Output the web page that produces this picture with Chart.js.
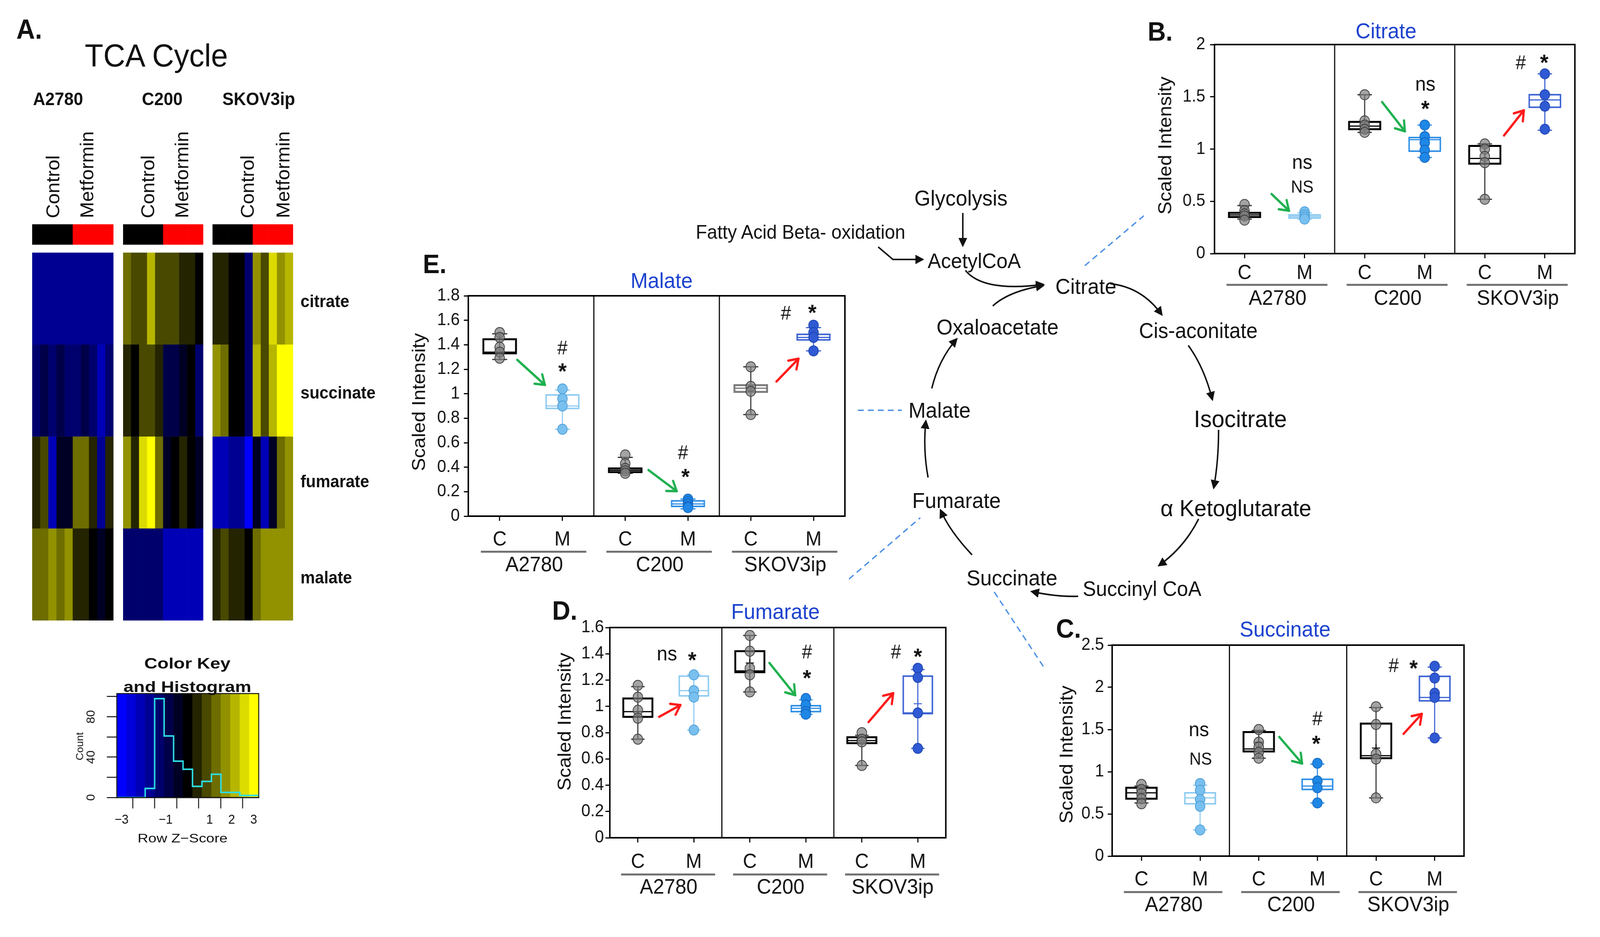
<!doctype html>
<html lang="en">
<head>
<meta charset="UTF-8" />
<title>TCA cycle metabolites after metformin</title>
<style>
  html, body { margin: 0; padding: 0; background: #fff; overflow: hidden; }
  #fig { position: relative; width: 4329px; height: 2398px; overflow: hidden;
         font-family: "Liberation Sans", Arial, sans-serif; color: #111; }
  #fig canvas { position: absolute; }
  .t { position: absolute; white-space: nowrap; line-height: 1; }
</style>
</head>
<body>
<div id="fig">
  <svg id="diagram" width="4329" height="2398" style="position:absolute;left:0;top:0">
    <defs>
      <marker id="head" viewBox="0 0 10 10" refX="8" refY="5" markerWidth="6" markerHeight="6" orient="auto">
        <path d="M0,0 L10,5 L0,10 z" fill="#111" />
      </marker>
    </defs>
  </svg>
</div>

<script src="https://cdn.jsdelivr.net/npm/chart.js"></script>
<script>
// ---------- data ----------
const cellLines = ["A2780", "C200", "SKOV3ip"];
const groupTicks = ["C", "M", "C", "M", "C", "M"];
const xPos = [0.5, 1.5, 2.5, 3.5, 4.5, 5.5];

// box stats are [lower whisker, Q1, median, Q3, upper whisker]
const citrateYTicks = [0, 0.5, 1, 1.5, 2];
const citratePoints = [
  [0.47, 0.41, 0.38, 0.36, 0.32], [0.40, 0.37, 0.35, 0.33],
  [1.52, 1.27, 1.23, 1.19, 1.16], [1.23, 1.12, 1.06, 0.99, 0.92],
  [1.05, 1.00, 0.93, 0.87, 0.52], [1.72, 1.52, 1.41, 1.19]
];
const citrateBoxes = [
  [0.33, 0.35, 0.37, 0.39, 0.46], [0.33, 0.34, 0.355, 0.37, 0.39],
  [1.16, 1.19, 1.22, 1.26, 1.52], [0.92, 0.98, 1.09, 1.11, 1.23],
  [0.52, 0.86, 0.91, 1.03, 1.05], [1.18, 1.40, 1.47, 1.52, 1.72]
];
const citrateMeans = [null, null, null, null, null, null];

const malateYTicks = [0, 0.2, 0.4, 0.6, 0.8, 1, 1.2, 1.4, 1.6, 1.8];
const malatePoints = [
  [1.50, 1.46, 1.38, 1.34, 1.29], [1.04, 0.96, 0.90, 0.71],
  [0.50, 0.43, 0.39, 0.37, 0.35], [0.14, 0.12, 0.10, 0.08, 0.07],
  [1.22, 1.06, 1.02, 0.83], [1.56, 1.50, 1.46, 1.35]
];
const malateBoxes = [
  [1.28, 1.33, 1.34, 1.445, 1.49], [0.71, 0.88, 0.90, 0.99, 1.03],
  [0.35, 0.36, 0.375, 0.39, 0.48], [0.06, 0.08, 0.10, 0.125, 0.14],
  [0.83, 1.015, 1.045, 1.07, 1.22], [1.35, 1.44, 1.46, 1.485, 1.54]
];
const malateMeans = [null, 0.93, null, null, null, null];

const fumarateYTicks = [0, 0.2, 0.4, 0.6, 0.8, 1, 1.2, 1.4, 1.6];
const fumaratePoints = [
  [1.16, 1.07, 0.97, 0.91, 0.75], [1.24, 1.12, 1.07, 0.82],
  [1.54, 1.42, 1.29, 1.24, 1.11], [1.06, 1.01, 0.96, 0.94],
  [0.80, 0.75, 0.73, 0.55], [1.29, 1.22, 0.95, 0.68]
];
const fumarateBoxes = [
  [0.75, 0.92, 0.96, 1.06, 1.15], [0.82, 1.08, 1.12, 1.23, 1.24],
  [1.11, 1.26, 1.27, 1.42, 1.54], [0.94, 0.96, 0.985, 1.005, 1.05],
  [0.55, 0.72, 0.74, 0.765, 0.78], [0.68, 0.945, 0.95, 1.23, 1.28]
];
const fumarateMeans = [null, null, 1.33, null, null, 1.02];

const succinateYTicks = [0, 0.5, 1, 1.5, 2, 2.5];
const succinatePoints = [
  [0.85, 0.79, 0.74, 0.68, 0.62], [0.86, 0.78, 0.67, 0.59, 0.31],
  [1.50, 1.35, 1.29, 1.23, 1.16], [1.10, 0.89, 0.81, 0.63],
  [1.77, 1.56, 1.21, 1.15, 0.69], [2.25, 2.11, 1.93, 1.88, 1.40]
];
const succinateBoxes = [
  [0.63, 0.68, 0.75, 0.81, 0.83], [0.31, 0.62, 0.69, 0.75, 0.84],
  [1.16, 1.24, 1.27, 1.47, 1.49], [0.63, 0.79, 0.83, 0.91, 1.09],
  [0.69, 1.16, 1.19, 1.57, 1.76], [1.40, 1.84, 1.88, 2.13, 2.24]
];
const succinateMeans = [null, null, 1.35, null, 1.28, null];

// heatmap: row z-scores, 10 samples per cell line (5 control, 5 metformin)
const heatmapRows = ["citrate", "succinate", "fumarate", "malate"];
const heatmapTreatment = ["Control", "Control", "Control", "Control", "Control",
                          "Metformin", "Metformin", "Metformin", "Metformin", "Metformin"];
const citrateZ = [
  -1.70, -1.78, -1.66, -1.75, -1.69, -1.71, -1.67, -1.80, -1.68, -1.73,
   1.30, 0.87, 0.85, 2.16, 0.90, 0.88, 0.86, 0.44, 0.46, 0.05,
   0.44, 0.40, 0.02, -0.05, -1.29, 1.73, 0.87, 2.59, 1.70, 2.16
];
const succinateZ = [
  -1.29, -0.86, -1.25, -0.90, -1.30, -1.27, -0.88, -1.32, -2.15, -1.28,
   0.44, 0.00, 0.87, 0.90, 0.42, -0.86, -0.84, -0.43, -0.10, -1.29,
   1.73, 1.30, 0.03, -0.02, -1.29, 2.16, 0.87, 2.14, 3.05, 2.98
];
const fumarateZ = [
   0.44, 0.87, -2.15, -0.43, -0.40, 1.30, 1.28, 0.46, -1.72, 0.42,
   1.73, 0.44, 2.59, 3.02, 1.30, -0.43, 0.00, 0.44, 0.04, -0.45,
  -2.15, -2.12, -1.72, -1.68, -3.00, -0.43, -2.18, -0.40, 1.30, 1.73
];
const malateZ = [
   1.30, 1.27, 1.73, 1.32, 1.71, 0.44, 0.47, 0.00, -0.30, 0.03,
  -1.29, -1.31, -1.27, -1.30, -1.28, -2.15, -2.14, -2.16, -2.13, -2.15,
   0.44, 0.87, 0.45, 0.41, 0.00, 1.30, 1.73, 1.72, 1.75, 1.70
];

// colour key and histogram
const keyBreaks = [-3.22, -2.79, -2.36, -1.93, -1.50, -1.07, -0.64, -0.21,
                    0.22, 0.65, 1.08, 1.51, 1.94, 2.37, 2.80, 3.23];
const histCounts = [0, 0, 0, 0, 9, 98, 61, 36, 28, 11, 16, 23, 5, 5, 2];
const keyXTicks = [-3, -2, -1, 0, 1, 2, 3];
const keyXLabels = ["\u22123", "", "\u22121", "", "1", "2", "3"];
const keyYTicks = [0, 20, 40, 60, 80, 100];
const keyYLabels = ["0", "", "40", "", "80", ""];
const keyCountMax = 103;

// ---------- helpers ----------
const fig = document.getElementById("fig");
const FONT = '"Liberation Sans", Arial, sans-serif';
Chart.defaults.font.family = FONT;
Chart.defaults.color = "#000";

function zColor(z) {
  // 15 colour bins, blue - black - yellow
  let b = Math.floor((z - keyBreaks[0]) / (keyBreaks[1] - keyBreaks[0]));
  b = Math.max(0, Math.min(14, b));
  const k = b - 7;
  const v = Math.round(255 * Math.abs(k) / 7);
  return k < 0 ? `rgb(0,0,${v})` : `rgb(${v},${v},0)`;
}

function label(txt, x, y, size, o = {}) {
  const d = document.createElement("div");
  d.className = "t";
  d.textContent = txt;
  d.style.left = x + "px";
  d.style.top = y + "px";
  d.style.fontSize = size + "px";
  if (o.bold) d.style.fontWeight = "bold";
  if (o.color) d.style.color = o.color;
  d.style.transform = `translate(${o.left ? "0" : "-50%"},-50%)` +
    (o.rot ? ` rotate(${o.rot}deg)` : "") + (o.sx ? ` scaleX(${o.sx})` : "");
  fig.appendChild(d);
}

function makeCanvas(left, top, w, h) {
  const c = document.createElement("canvas");
  c.width = w; c.height = h;
  c.style.left = left + "px"; c.style.top = top + "px";
  c.style.width = w + "px"; c.style.height = h + "px";
  fig.appendChild(c);
  return c;
}

function line(ctx, x1, y1, x2, y2) {
  ctx.beginPath(); ctx.moveTo(x1, y1); ctx.lineTo(x2, y2); ctx.stroke();
}

// ---------- box plots ----------
const mBox = ["#8fcbf1", "#2f8fe6", "#3c63d4"];
const mPoint = ["#79c0ef", "#1f87e5", "#2f5ad3"];
const mEdge = ["#4d9fd8", "#1466c0", "#1f44b0"];
const arrowColor = { g: "#1fb04f", r: "#ff1a1a" };

const boxPlugin = {
  id: "boxes",
  beforeDatasetsDraw(chart) {
    const o = chart.options.plugins.boxes;
    const { ctx, scales: { x, y } } = chart;
    ctx.save();
    o.boxes.forEach((b, i) => {
      const [wlo, q1, med, q3, whi] = b;
      const cx = x.getPixelForValue(xPos[i]);
      const hw = x.getPixelForValue(xPos[i] + 0.26) - cx;
      const cw = x.getPixelForValue(xPos[i] + 0.12) - cx;
      const isM = i % 2 === 1;
      const col = isM ? mBox[i >> 1] : o.cBox[i >> 1];
      ctx.strokeStyle = isM ? col : "#333";
      ctx.lineWidth = 3;
      line(ctx, cx, y.getPixelForValue(wlo), cx, y.getPixelForValue(whi));
      [wlo, whi].forEach(v => line(ctx, cx - cw, y.getPixelForValue(v), cx + cw, y.getPixelForValue(v)));
      ctx.strokeStyle = col;
      ctx.lineWidth = isM ? 4 : 5;
      const top = y.getPixelForValue(q3), bot = y.getPixelForValue(q1);
      ctx.strokeRect(cx - hw, top, 2 * hw, bot - top);
      ctx.lineWidth = 3;
      line(ctx, cx - hw, y.getPixelForValue(med), cx + hw, y.getPixelForValue(med));
      const m = o.means[i];
      if (m != null) {
        const my = y.getPixelForValue(m);
        ctx.lineWidth = 2.5;
        line(ctx, cx - 11, my, cx + 11, my);
        line(ctx, cx, my - 11, cx, my + 11);
      }
    });
    ctx.restore();
  },
  afterDraw(chart) {
    const o = chart.options.plugins.boxes;
    const L = o.layout;
    const { ctx, chartArea: a, scales: { x, y } } = chart;
    ctx.save();
    ctx.strokeStyle = "#000";
    ctx.lineWidth = 4;
    ctx.strokeRect(a.left, a.top, a.right - a.left, a.bottom - a.top);
    ctx.lineWidth = 3;
    [2, 4].forEach(v => { const px = x.getPixelForValue(v); line(ctx, px, a.top, px, a.bottom); });

    // cell line group labels
    cellLines.forEach((name, g) => {
      ctx.strokeStyle = "#6e6e6e";
      ctx.lineWidth = 5;
      line(ctx, x.getPixelForValue(2 * g + 0.2), a.bottom + L.underlineDy,
                x.getPixelForValue(2 * g + 1.88), a.bottom + L.underlineDy);
      ctx.fillStyle = "#111";
      ctx.font = `54px ${FONT}`;
      ctx.textAlign = "center";
      ctx.textBaseline = "middle";
      ctx.fillText(name, x.getPixelForValue(2 * g + 1.05), a.bottom + L.groupDy);
    });

    // y title
    ctx.save();
    ctx.translate(a.left + L.yTitleDx, (a.top + a.bottom) / 2 + L.yTitleDy);
    ctx.rotate(-Math.PI / 2);
    ctx.font = `50px ${FONT}`;
    ctx.fillStyle = "#111";
    ctx.textAlign = "center";
    ctx.textBaseline = "middle";
    ctx.fillText("Scaled Intensity", 0, 0);
    ctx.restore();

    // significance marks
    o.notes.forEach(([t, vx, vy]) => {
      const size = t === "*" ? 58 : t === "NS" ? 44 : t === "#" ? 50 : 52;
      ctx.font = `${t === "*" ? "bold " : ""}${size}px ${FONT}`;
      ctx.fillStyle = "#111";
      ctx.textAlign = "center";
      ctx.textBaseline = "alphabetic";
      const m = ctx.measureText(t);
      const cy = y.getPixelForValue(vy) + (m.actualBoundingBoxAscent - m.actualBoundingBoxDescent) / 2;
      ctx.fillText(t, x.getPixelForValue(vx), cy);
    });

    // change arrows
    o.arrows.forEach(([x1, y1, x2, y2, c]) => {
      const p1 = [x.getPixelForValue(x1), y.getPixelForValue(y1)];
      const p2 = [x.getPixelForValue(x2), y.getPixelForValue(y2)];
      ctx.strokeStyle = arrowColor[c];
      ctx.lineWidth = 6;
      ctx.lineCap = "round";
      line(ctx, p1[0], p1[1], p2[0], p2[1]);
      const ang = Math.atan2(p2[1] - p1[1], p2[0] - p1[0]);
      [-0.6, 0.6].forEach(s => line(ctx, p2[0], p2[1],
        p2[0] - 28 * Math.cos(ang + s), p2[1] - 28 * Math.sin(ang + s)));
    });
    ctx.restore();
  }
};

function boxChart(p) {
  const LEFT = 200, TOP = 40, RIGHT = 40, BOTTOM = 170;
  const c = makeCanvas(p.plot.left - LEFT, p.plot.top - TOP,
                       p.plot.w + LEFT + RIGHT, p.plot.h + TOP + BOTTOM);
  const yMax = p.yTicks[p.yTicks.length - 1];
  return new Chart(c, {
    type: "scatter",
    data: {
      datasets: p.points.map((pts, i) => ({
        data: pts.map(v => ({ x: xPos[i], y: v })),
        backgroundColor: i % 2 ? mPoint[i >> 1] : "rgba(125,125,125,0.7)",
        borderColor: i % 2 ? mEdge[i >> 1] : "#3a3a3a",
        borderWidth: 2,
        pointRadius: 13,
        pointHoverRadius: 13
      }))
    },
    options: {
      responsive: false,
      animation: false,
      devicePixelRatio: 1,
      events: [],
      layout: { autoPadding: false, padding: { top: TOP, right: RIGHT, left: 0, bottom: 0 } },
      plugins: {
        legend: { display: false },
        tooltip: { enabled: false },
        boxes: { boxes: p.boxes, means: p.means, notes: p.notes, arrows: p.arrows,
                 layout: p.layout, cBox: p.cBox }
      },
      scales: {
        x: {
          type: "linear", min: 0, max: 6, offset: false,
          afterBuildTicks: ax => { ax.ticks = xPos.map(v => ({ value: v })); },
          afterFit: ax => { ax.height = BOTTOM; },
          ticks: { callback: (v, i) => groupTicks[i], autoSkip: false, maxRotation: 0,
                   font: { size: 52 }, color: "#111", padding: p.layout.tickPadX },
          grid: { drawOnChartArea: false, drawTicks: true, tickLength: 12, color: "#000", lineWidth: 3 },
          border: { display: true, color: "#000", width: 4 }
        },
        y: {
          min: 0, max: yMax,
          afterBuildTicks: ax => { ax.ticks = p.yTicks.map(v => ({ value: v })); },
          afterFit: ax => { ax.width = LEFT; },
          ticks: { callback: v => String(+v.toFixed(2)), font: { size: 44 }, color: "#111",
                   padding: p.layout.tickPadY },
          grid: { drawOnChartArea: false, drawTicks: true, tickLength: 12, color: "#000", lineWidth: 3 },
          border: { display: true, color: "#000", width: 4 }
        }
      }
    },
    plugins: [boxPlugin]
  });
}

boxChart({
  plot: { left: 3286, top: 114, w: 975, h: 535 },
  yTicks: citrateYTicks, points: citratePoints, boxes: citrateBoxes, means: citrateMeans,
  cBox: ["#000", "#000", "#000"],
  layout: { tickPadX: 7, tickPadY: 13, yTitleDx: -131, yTitleDy: -9, underlineDy: 80, groupDy: 116 },
  notes: [["ns", 1.46, 0.86], ["NS", 1.46, 0.64], ["ns", 3.51, 1.61], ["*", 3.51, 1.42],
          ["#", 5.10, 1.83], ["*", 5.49, 1.86]],
  arrows: [[0.95, 0.57, 1.24, 0.41, "g"], [2.79, 1.45, 3.17, 1.17, "g"], [4.82, 1.13, 5.15, 1.37, "r"]]
});

boxChart({
  plot: { left: 1267, top: 757, w: 1019, h: 564 },
  yTicks: malateYTicks, points: malatePoints, boxes: malateBoxes, means: malateMeans,
  cBox: ["#000", "#000", "#7a7a7a"],
  layout: { tickPadX: 17, tickPadY: 11, yTitleDx: -131, yTitleDy: -10, underlineDy: 91, groupDy: 126 },
  notes: [["#", 1.50, 1.376], ["*", 1.50, 1.213], ["#", 3.42, 0.523], ["*", 3.46, 0.351],
          ["#", 5.06, 1.66], ["*", 5.48, 1.69]],
  arrows: [[0.78, 1.277, 1.22, 1.072, "g"], [2.87, 0.377, 3.32, 0.204, "g"], [4.91, 1.10, 5.26, 1.286, "r"]]
});

boxChart({
  plot: { left: 1650, top: 1606, w: 909, h: 538 },
  yTicks: fumarateYTicks, points: fumaratePoints, boxes: fumarateBoxes, means: fumarateMeans,
  cBox: ["#000", "#000", "#000"],
  layout: { tickPadX: 19, tickPadY: 4, yTitleDx: -120, yTitleDy: -28, underlineDy: 94, groupDy: 128 },
  notes: [["ns", 1.02, 1.39], ["*", 1.47, 1.38], ["#", 3.52, 1.416], ["*", 3.52, 1.243],
          ["#", 5.11, 1.416], ["*", 5.50, 1.407]],
  arrows: [[0.88, 0.92, 1.26, 1.01, "r"], [2.85, 1.33, 3.31, 1.085, "g"], [4.62, 0.88, 5.06, 1.10, "r"]]
});

boxChart({
  plot: { left: 3009, top: 1651, w: 952, h: 540 },
  yTicks: succinateYTicks, points: succinatePoints, boxes: succinateBoxes, means: succinateMeans,
  cBox: ["#000", "#000", "#000"],
  layout: { tickPadX: 17, tickPadY: 10, yTitleDx: -121, yTitleDy: 10, underlineDy: 92, groupDy: 126 },
  notes: [["ns", 1.48, 1.486], ["NS", 1.51, 1.157], ["#", 3.50, 1.634], ["*", 3.48, 1.375],
          ["#", 4.80, 2.26], ["*", 5.14, 2.27]],
  arrows: [[2.85, 1.412, 3.24, 1.097, "g"], [4.97, 1.449, 5.28, 1.685, "r"]]
});

// panel titles and letters
const titleBlue = "#1d43cf";
label("Citrate", 3750, 79, 56, { color: titleBlue });
label("Malate", 1790, 718, 56, { color: titleBlue });
label("Fumarate", 2098, 1565, 56, { color: titleBlue });
label("Succinate", 3477, 1610, 56, { color: titleBlue });
label("B.", 3105, 80, 68, { bold: true, left: true });
label("E.", 1144, 675, 68, { bold: true, left: true });
label("D.", 1494, 1562, 68, { bold: true, left: true });
label("C.", 2857, 1608, 68, { bold: true, left: true });

// ---------- heatmap ----------
const heatCols = [[87, 307], [333, 550], [575, 793]];
const heatTop = 574, heatBottom = 1588;
const rowsBottomUp = [malateZ, fumarateZ, succinateZ, citrateZ];

cellLines.forEach((name, g) => {
  const [x0, x1] = heatCols[g];
  const c = makeCanvas(x0, heatTop, x1 - x0, heatBottom - heatTop);
  const part = arr => arr.slice(g * 10, g * 10 + 10);
  const datasets = rowsBottomUp.map(z => ({
    data: part(z).map(() => 1),
    backgroundColor: part(z).map(zColor),
    borderWidth: 0
  }));
  datasets.push({ data: heatmapTreatment.map(() => 0.089), backgroundColor: "rgba(0,0,0,0)", borderWidth: 0 });
  datasets.push({ data: heatmapTreatment.map(() => 0.221),
                  backgroundColor: heatmapTreatment.map(t => t === "Control" ? "#000000" : "#ff0000"),
                  borderWidth: 0 });
  new Chart(c, {
    type: "bar",
    data: { labels: heatmapTreatment.map((t, i) => `${name} ${t} ${i + 1}`), datasets },
    options: {
      responsive: false, animation: false, devicePixelRatio: 1, events: [],
      layout: { autoPadding: false, padding: 0 },
      datasets: { bar: { categoryPercentage: 1, barPercentage: 1 } },
      plugins: { legend: { display: false }, tooltip: { enabled: false } },
      scales: {
        x: { stacked: true, display: false },
        y: { stacked: true, display: false, min: 0, max: 4.31 }
      }
    }
  });
});

label("A.", 44, 75, 70, { bold: true, left: true });
label("TCA Cycle", 423, 142, 82);
label("A2780", 157, 253, 46, { bold: true });
label("C200", 439, 253, 46, { bold: true });
label("SKOV3ip", 700, 253, 46, { bold: true });
[[144, 236], [400, 492], [670, 766]].forEach(([cx, mx]) => {
  label("Control", cx, 478, 50, { rot: -90 });
  label("Metformin", mx, 447, 50, { rot: -90 });
});
const rowLabelY = [771, 1005, 1232, 1478];
heatmapRows.forEach((r, i) => label(r, 813, rowLabelY[i], 44, { bold: true, left: true }));

// ---------- colour key ----------
const keyPlugin = {
  id: "keyFrame",
  afterDraw(chart) {
    const { ctx, chartArea: a, scales: { y } } = chart;
    ctx.save();
    ctx.strokeStyle = "#111";
    ctx.lineWidth = 2.5;
    ctx.strokeRect(a.left, a.top, a.right - a.left, a.bottom - a.top);
    ctx.fillStyle = "#111";
    ctx.font = `31px ${FONT}`;
    ctx.textAlign = "center";
    ctx.textBaseline = "middle";
    keyYTicks.forEach((v, i) => {
      if (!keyYLabels[i]) return;
      ctx.save();
      ctx.translate(a.left - 69, y.getPixelForValue(v));
      ctx.rotate(-Math.PI / 2);
      ctx.fillText(keyYLabels[i], 0, 0);
      ctx.restore();
    });
    ctx.restore();
  }
};

(function () {
  const KL = 136, KT = 15, KR = 60, KB = 139;
  const c = makeCanvas(316 - KL, 1775 - KT, 384 + KL + KR, 266 + KT + KB);
  const centers = histCounts.map((_, i) => (keyBreaks[i] + keyBreaks[i + 1]) / 2);
  const steps = histCounts.map((n, i) => ({ x: keyBreaks[i], y: n }));
  steps.push({ x: keyBreaks[keyBreaks.length - 1], y: histCounts[histCounts.length - 1] });
  new Chart(c, {
    type: "bar",
    data: {
      datasets: [
        { type: "line", data: steps, stepped: "after", borderColor: "#2edfe6", borderWidth: 4,
          pointRadius: 0, fill: false, order: 0 },
        { type: "bar", data: centers.map(v => ({ x: v, y: keyCountMax })),
          backgroundColor: centers.map(zColor), borderWidth: 0,
          categoryPercentage: 1, barPercentage: 1, order: 1 }
      ]
    },
    options: {
      responsive: false, animation: false, devicePixelRatio: 1, events: [],
      layout: { autoPadding: false, padding: { top: KT, right: KR, left: 0, bottom: 0 } },
      plugins: { legend: { display: false }, tooltip: { enabled: false } },
      scales: {
        x: {
          type: "linear", min: keyBreaks[0], max: keyBreaks[keyBreaks.length - 1], offset: false,
          afterBuildTicks: ax => { ax.ticks = keyXTicks.map(v => ({ value: v })); },
          afterFit: ax => { ax.height = KB; },
          ticks: { callback: (v, i) => keyXLabels[i], autoSkip: false, maxRotation: 0,
                   font: { size: 33 }, color: "#111", padding: 10 },
          grid: { drawOnChartArea: false, drawTicks: true, tickLength: 28, color: "#111", lineWidth: 2.5 },
          border: { display: true, color: "#111", width: 2.5 }
        },
        y: {
          min: 0, max: keyCountMax,
          afterBuildTicks: ax => { ax.ticks = keyYTicks.map(v => ({ value: v })); },
          afterFit: ax => { ax.width = KL; },
          ticks: { callback: () => "" },
          grid: { drawOnChartArea: false, drawTicks: true, tickLength: 27, color: "#111", lineWidth: 2.5 },
          border: { display: true, color: "#111", width: 2.5 }
        }
      }
    },
    plugins: [keyPlugin]
  });
})();

label("Color Key", 507, 1698, 38, { bold: true, sx: 1.3 });
label("and Histogram", 507, 1758, 38, { bold: true, sx: 1.3 });
label("Count", 216, 1910, 27, { rot: -90 });
label("Row Z\u2212Score", 494, 2145, 32, { sx: 1.25 });

// ---------- pathway diagram ----------
const pathway = [
  ["Glycolysis", 2600, 507, 56], ["Fatty Acid Beta- oxidation", 2166, 594, 50],
  ["AcetylCoA", 2636, 667, 54], ["Citrate", 2938, 733, 56],
  ["Cis-aconitate", 3242, 846, 55], ["Isocitrate", 3356, 1072, 62],
  ["\u03b1 Ketoglutarate", 3344, 1301, 60], ["Succinyl CoA", 3090, 1506, 54],
  ["Succinate", 2738, 1479, 56], ["Fumarate", 2588, 1281, 56],
  ["Malate", 2542, 1050, 56], ["Oxaloacetate", 2699, 837, 56]
];
pathway.forEach(([t, x, y, s]) => label(t, x, y, s));

const svg = document.getElementById("diagram");
const arrowsPaths = [
  "M2605,545 L2605,628",
  "M2376,632 L2416,664 L2496,664",
  "M2612,692 Q2660,748 2822,728",
  "M2686,783 Q2730,745 2822,731",
  "M3004,726 Q3090,735 3143,805",
  "M3215,884 Q3258,940 3280,1022",
  "M3297,1100 Q3297,1180 3284,1248",
  "M3243,1328 Q3205,1400 3136,1447",
  "M2917,1526 Q2860,1528 2792,1514",
  "M2630,1420 Q2570,1360 2545,1306",
  "M2511,1222 Q2497,1150 2505,1078",
  "M2521,994 Q2540,920 2588,868"
];
const dashed = [
  "M2935,680 L3095,552",
  "M2321,1050 L2440,1050",
  "M2297,1482 L2490,1325",
  "M2690,1515 L2828,1713"
];
let html = svg.innerHTML;
arrowsPaths.forEach(d => {
  html += `<path d="${d}" fill="none" stroke="#111" stroke-width="4" marker-end="url(#head)" />`;
});
dashed.forEach(d => {
  html += `<path d="${d}" fill="none" stroke="#4a8fe4" stroke-width="3.5" stroke-dasharray="16 11" />`;
});
svg.innerHTML = html;

// fit the figure to the viewport if it differs from the design size
const vw = document.documentElement.clientWidth, vh = document.documentElement.clientHeight;
if (vw && vh && (Math.abs(vw / 4329 - 1) > 0.01 || Math.abs(vh / 2398 - 1) > 0.01)) {
  fig.style.transformOrigin = "0 0";
  fig.style.transform = `scale(${vw / 4329}, ${vh / 2398})`;
}
</script>
</body>
</html>
